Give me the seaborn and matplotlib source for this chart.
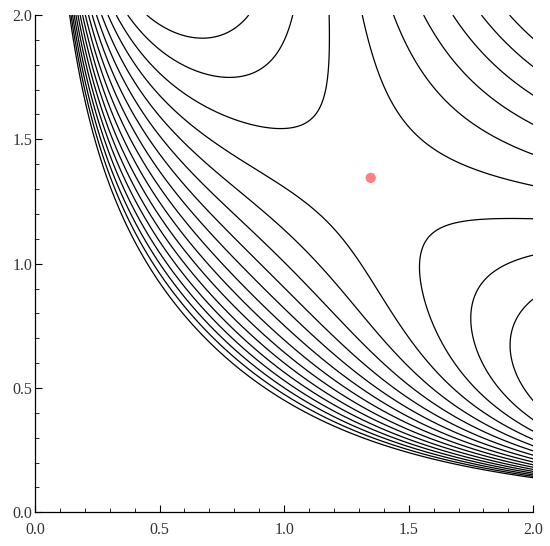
import numpy as np
import matplotlib
matplotlib.use("Agg")
import matplotlib.pyplot as plt
from matplotlib.ticker import MultipleLocator
import seaborn as sns

# surface: f = k_xy*x*y + k_sum*(x+y) + k_inv*(1/x+1/y) + k_invprod/(x*y)
k_xy = 1.0
k_sum = -0.9705
k_inv = -0.146
k_invprod = 1.0846

# equally spaced contour levels
level_start = -0.6688
level_step = 0.10295
level_count = 17

# marked point
point_x = [1.3475]
point_y = [1.345]

ticks = [0.0, 0.5, 1.0, 1.5, 2.0]
tick_labels = ["0.0", "0.5", "1.0", "1.5", "2.0"]

sns.set_style("white")
plt.rcParams["font.family"] = ["Liberation Serif", "DejaVu Serif"]

xs = np.linspace(0.004, 2.0, 900)
ys = np.linspace(0.004, 2.0, 900)
X, Y = np.meshgrid(xs, ys)
Z = k_xy * X * Y + k_sum * (X + Y) + k_inv * (1 / X + 1 / Y) + k_invprod / (X * Y)
levels = [level_start + i * level_step for i in range(level_count)]

fig = plt.figure(figsize=(5.5, 5.46), dpi=100)
ax = fig.add_axes([0.0636, 0.0617, 0.906, 0.9108])
ax.contour(X, Y, Z, levels=levels, colors="black", linewidths=0.9, linestyles="solid")
sns.scatterplot(x=point_x, y=point_y, color="#ff8080", s=55, edgecolor="none", ax=ax, zorder=5)

ax.set_xlim(0, 2)
ax.set_ylim(0, 2)
ax.set_xticks(ticks)
ax.set_yticks(ticks)
ax.set_xticklabels(tick_labels)
ax.set_yticklabels(tick_labels)
ax.xaxis.set_minor_locator(MultipleLocator(0.1))
ax.yaxis.set_minor_locator(MultipleLocator(0.1))
ax.tick_params(which="both", bottom=True, left=True, top=False, right=False,
               direction="in", color="black")
ax.tick_params(which="major", length=5, width=0.8, labelsize=11.5, labelcolor="#333333")
ax.tick_params(which="minor", length=3, width=0.6)
ax.tick_params(axis="x", which="major", pad=7)
ax.tick_params(axis="y", which="major", pad=2)
for side in ["top", "right"]:
    ax.spines[side].set_visible(False)
for side in ["left", "bottom"]:
    ax.spines[side].set_linewidth(0.9)
    ax.spines[side].set_color("black")

fig.savefig("out.png", dpi=100)
